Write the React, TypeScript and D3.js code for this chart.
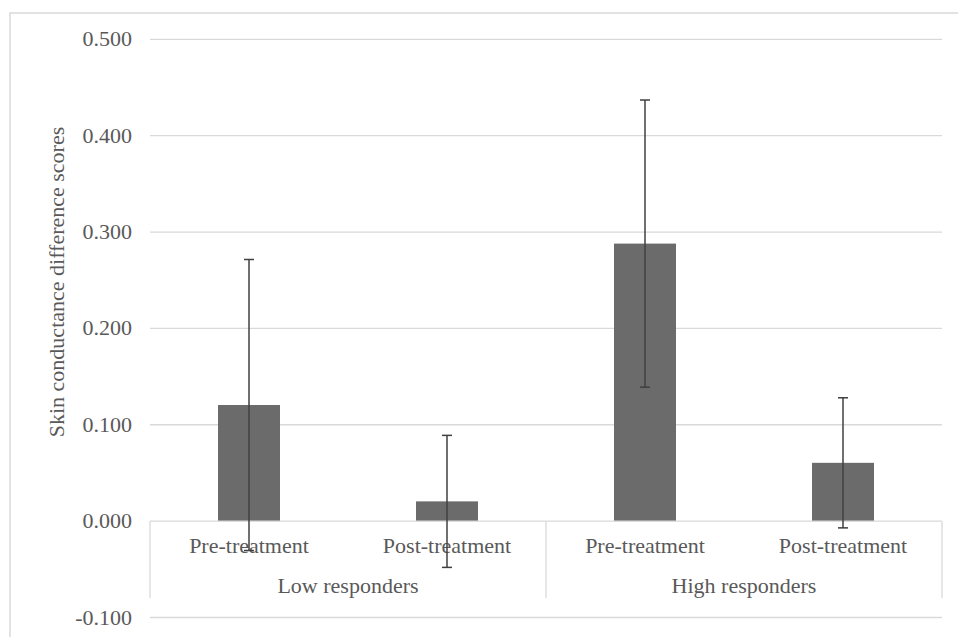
import React from "react";
import * as d3 from "d3";

const categories = ["Pre-treatment", "Post-treatment", "Pre-treatment", "Post-treatment"];
const groups = ["Low responders", "High responders"];
const means = [0.1205, 0.0205, 0.288, 0.0605];
const errors = [0.151, 0.0685, 0.149, 0.0675];
const yTicks = [-0.1, 0, 0.1, 0.2, 0.3, 0.4, 0.5];
const yTitle = "Skin conductance difference scores";

const W = 958;
const H = 637;
const left = 150;
const right = 942;
const font = "'Liberation Serif', 'Times New Roman', serif";

export default function App() {
  const y = d3.scaleLinear().domain([-0.1, 0.5]).range([617.5, 39.3]);
  const x = d3
    .scaleBand<number>()
    .domain(d3.range(categories.length))
    .range([left, right])
    .paddingInner(0)
    .paddingOuter(0);
  const bw = x.bandwidth();
  const barW = bw * 0.313;
  const y0 = y(0);
  const groupW = (right - left) / groups.length;
  const capW = 8;
  return (
    <svg width={W} height={H} style={{ position: "absolute", left: 0, top: 0, background: "#fff" }}>
      <rect x={10} y={13} width={960} height={640} fill="#fff" stroke="#d9d9d9" strokeWidth={1.5} />
      {yTicks.map((t) => (
        <g key={t}>
          {t !== 0 && (
            <line x1={left} x2={right} y1={y(t)} y2={y(t)} stroke="#d9d9d9" strokeWidth={1.3} />
          )}
          <text
            x={132}
            y={y(t) + 7}
            textAnchor="end"
            fontFamily={font}
            fontSize={22}
            fill="#595959"
          >
            {d3.format(".3f")(t).replace("−", "-")}
          </text>
        </g>
      ))}
      <text
        transform={`translate(64,282) rotate(-90)`}
        textAnchor="middle"
        fontFamily={font}
        fontSize={22}
        fill="#595959"
      >
        {yTitle}
      </text>
      {means.map((m, i) => {
        const cx = (x(i) as number) + bw / 2;
        return (
          <rect
            key={"b" + i}
            x={cx - barW / 2}
            y={Math.min(y(m), y0)}
            width={barW}
            height={Math.abs(y0 - y(m))}
            fill="#6b6b6b"
          />
        );
      })}
      <line x1={left} x2={right} y1={y0} y2={y0} stroke="#d9d9d9" strokeWidth={1.3} />
      {[0, 1, 2].map((k) => (
        <line
          key={"s" + k}
          x1={left + k * groupW}
          x2={left + k * groupW}
          y1={y0}
          y2={598}
          stroke="#d9d9d9"
          strokeWidth={1.3}
        />
      ))}
      {categories.map((c, i) => (
        <text
          key={"c" + i}
          x={(x(i) as number) + bw / 2}
          y={553}
          textAnchor="middle"
          fontFamily={font}
          fontSize={22}
          fill="#595959"
        >
          {c}
        </text>
      ))}
      {groups.map((g, k) => (
        <text
          key={"g" + k}
          x={left + groupW * (k + 0.5)}
          y={592.5}
          textAnchor="middle"
          fontFamily={font}
          fontSize={22}
          fill="#595959"
        >
          {g}
        </text>
      ))}
      {means.map((m, i) => {
        const cx = (x(i) as number) + bw / 2;
        const hi = y(m + errors[i]);
        const lo = y(m - errors[i]);
        return (
          <g key={"e" + i} stroke="#404040" strokeWidth={1.5}>
            <line x1={cx} x2={cx} y1={hi} y2={lo} />
            <line x1={cx - capW / 2 - 1} x2={cx + capW / 2 + 1} y1={hi} y2={hi} />
            <line x1={cx - capW / 2 - 1} x2={cx + capW / 2 + 1} y1={lo} y2={lo} />
          </g>
        );
      })}
    </svg>
  );
}
